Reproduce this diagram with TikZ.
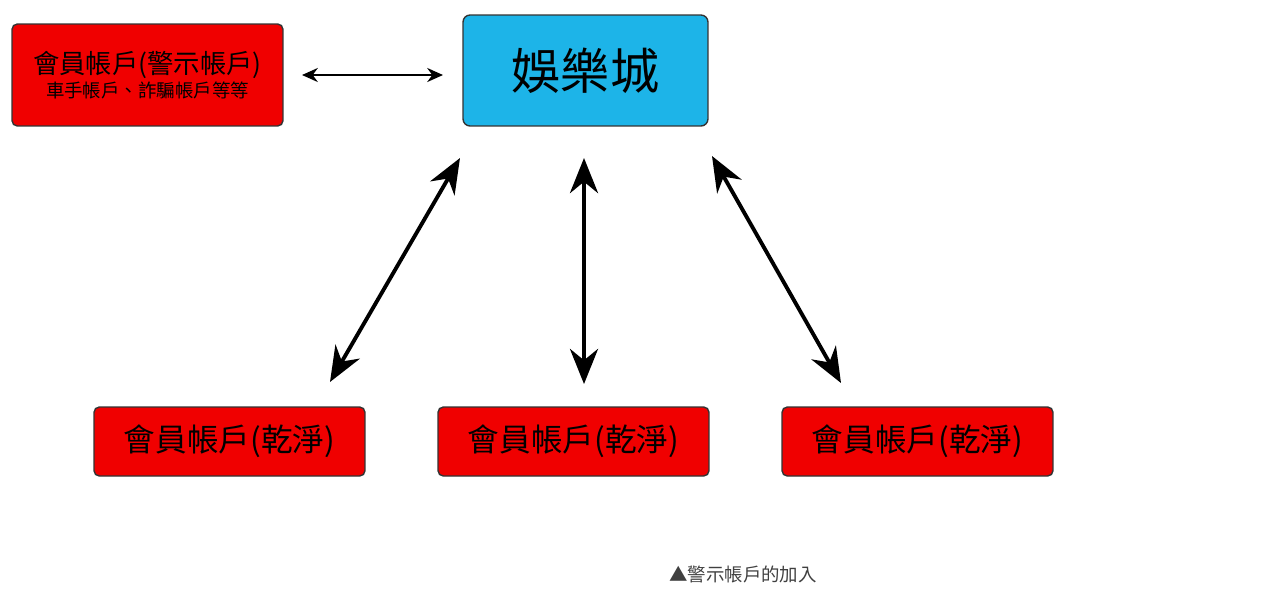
\documentclass[tikz,border=0pt]{standalone}
\usepackage{fontspec}
\newfontfamily\cjk{Noto Sans CJK TC}
\usetikzlibrary{positioning,arrows.meta}
\definecolor{boxred}{HTML}{F00000}
\definecolor{boxblue}{HTML}{1DB4E8}
\tikzset{acct/.style={draw=black!80,thick,fill=boxred,rounded corners=3pt,
                      minimum width=5.42cm,inner sep=0pt,font=\cjk},
         hub/.style={draw=black!80,thick,fill=boxblue,rounded corners=4pt,
                     minimum width=4.9cm,minimum height=2.22cm,font=\cjk\fontsize{28}{30}\selectfont},
         link/.style={line width=2.2pt,{Stealth[length=20pt,width=16pt]}-{Stealth[length=20pt,width=16pt]}},
         thin link/.style={line width=1.2pt,{Stealth[length=9pt,width=8pt]}-{Stealth[length=9pt,width=8pt]}}}

\begin{document}
\begin{tikzpicture}[x=0.02cm,y=-0.02cm]
  \useasboundingbox (0,0) rectangle (1280,603);
  % top row
  \node[hub] (casino) at (585.5,70.5) {娛樂城};
  \node[acct,minimum height=2.04cm,align=center] (warn) at (147.5,75)
    {{\fontsize{15}{20}\selectfont 會員帳戶(警示帳戶)}\\[2pt]{\fontsize{10.5}{14}\selectfont 車手帳戶、詐騙帳戶等等}};
  % bottom row
  \node[acct,minimum height=1.38cm,font=\cjk\fontsize{18}{20}\selectfont] (left) at (229.5,441.5) {會員帳戶(乾淨)};
  \node[acct,minimum height=1.38cm,font=\cjk\fontsize{18}{20}\selectfont] (mid) at (573.5,441.5) {會員帳戶(乾淨)};
  \node[acct,minimum height=1.38cm,font=\cjk\fontsize{18}{20}\selectfont] (right) at (917.5,441.5) {會員帳戶(乾淨)};

  % arrow ends
  \coordinate (w1) at (302,75);
  \coordinate (w2) at (443,75);
  \coordinate (l1) at (460,158);
  \coordinate (l2) at (330,382);
  \coordinate (m1) at (584,158);
  \coordinate (m2) at (584,384);
  \coordinate (r1) at (712,156);
  \coordinate (r2) at (841,383);
  \draw[thin link] (w1) -- (w2);
  \draw[link] (l1) -- (l2);
  \draw[link] (m1) -- (m2);
  \draw[link] (r1) -- (r2);

  \node[font=\cjk\fontsize{10.5}{12}\selectfont,text=black!75] (caption) at (743,574) {▲警示帳戶的加入};
\end{tikzpicture}
\end{document}
